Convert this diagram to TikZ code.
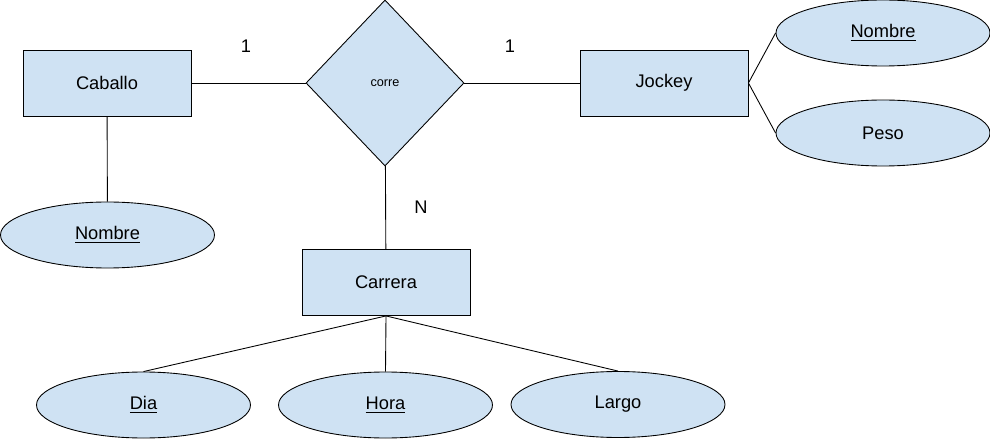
\documentclass[tikz,border=0pt]{standalone}
\usepackage{fontspec}
\setmainfont{Liberation Sans}
\usetikzlibrary{shapes.geometric}
\definecolor{celeste}{HTML}{CFE2F3}
\tikzset{
	entidad/.style={draw, fill=celeste, line width=0.5pt, minimum width=3.36cm, minimum height=1.32cm, inner sep=0pt, font=\fontsize{10.4}{12}\selectfont},
	atributo/.style={draw, ellipse, fill=celeste, line width=0.5pt, minimum width=4.28cm, minimum height=1.32cm, inner sep=0pt, font=\fontsize{10.4}{12}\selectfont},
	relacion/.style={draw, diamond, fill=celeste, line width=0.5pt, minimum width=3.16cm, minimum height=3.32cm, inner sep=0pt, font=\fontsize{7.2}{9}\selectfont},
	enlace/.style={line width=0.5pt},
	cardinal/.style={font=\fontsize{10.4}{12}\selectfont}
}

\begin{document}
\begin{tikzpicture}
			%%%%% START %%%%%
			\useasboundingbox (0, 0) rectangle (19.8, -8.78);
			
			\node[entidad] (caballo) at (2.14, -1.66) {Caballo};
			\node[relacion] (corre) at (7.7, -1.66) {corre};
			\node[entidad] (jockey) at (13.28, -1.66) {Jockey};
			\node[entidad] (carrera) at (7.72, -5.65) {Carrera};
			
			\node[atributo] (nombreJ) at (17.66, -0.66) {\underline{Nombre}};
			\node[atributo] (peso) at (17.66, -2.66) {Peso};
			\node[atributo] (nombreC) at (2.15, -4.7) {\underline{Nombre}};
			
			\node[atributo] (dia) at (2.87, -8.1) {\underline{Dia}};
			\node[atributo] (hora) at (7.71, -8.1) {\underline{Hora}};
			\node[atributo] (largo) at (12.36, -8.09) {Largo};
			
			\draw[enlace] (caballo) -- (corre);
			\draw[enlace] (corre) -- (jockey);
			\draw[enlace] (corre) -- (carrera);
			\draw[enlace] (caballo) -- (nombreC);
			
			\draw[enlace] (jockey.east) -- (nombreJ.west);
			\draw[enlace] (jockey.east) -- (peso.west);
			
			\draw[enlace] (carrera.south) -- (dia.north);
			\draw[enlace] (carrera.south) -- (hora.north);
			\draw[enlace] (carrera.south) -- (largo.north);
			
			\node[cardinal] (c1) at (4.92, -0.92) {1};
			\node[cardinal] (c2) at (10.2, -0.92) {1};
			\node[cardinal] (c3) at (8.42, -4.14) {N};
			%%%%% END %%%%%
\end{tikzpicture}
\end{document}
